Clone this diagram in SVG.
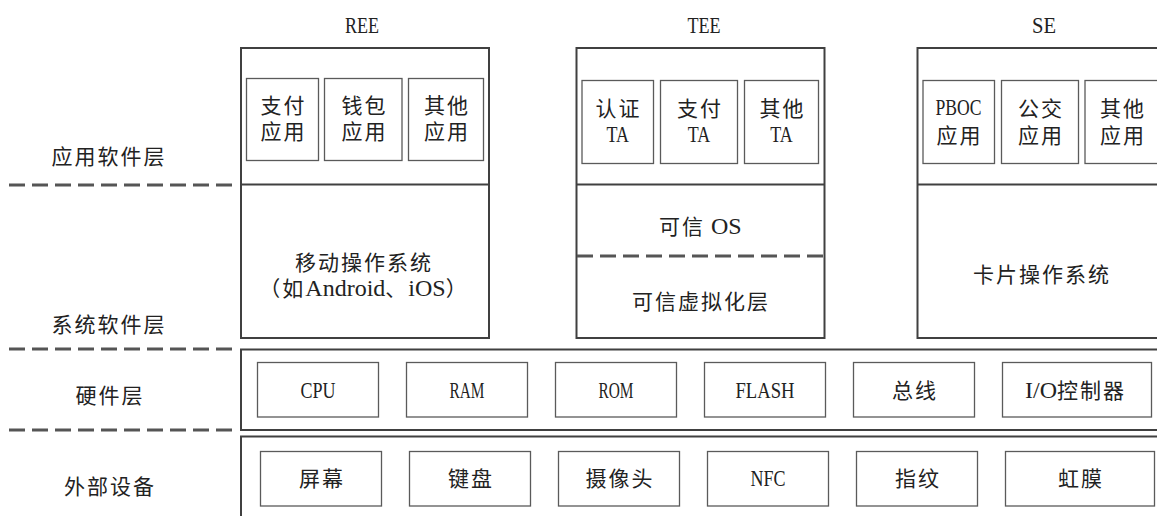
<svg xmlns="http://www.w3.org/2000/svg" width="1157" height="516" viewBox="0 0 1157 516">
<style>
.bg{fill:#ffffff}
.outer{fill:#ffffff;stroke:#404040;stroke-width:2}
.inner{fill:#ffffff;stroke:#5a5a5a;stroke-width:1.3}
.div{stroke:#404040;stroke-width:2;fill:none}
.dash{stroke:#555555;stroke-width:3;stroke-dasharray:16 7;fill:none}
.t{font-family:"Liberation Serif","Noto Sans CJK SC",serif;font-size:21px;letter-spacing:2px;fill:#222222}
.lat{font-family:"Liberation Serif","Noto Sans CJK SC",serif;font-size:24px;letter-spacing:0px}
</style>
<rect class="bg" x="0" y="0" width="1157" height="516"/>

<g id="layer-labels">
<text class="t" x="109" y="164" text-anchor="middle">应用软件层</text>
<text class="t" x="109" y="332" text-anchor="middle">系统软件层</text>
<text class="t" x="110" y="402.5" text-anchor="middle">硬件层</text>
<text class="t" x="110" y="494" text-anchor="middle">外部设备</text>
</g>

<g id="ree">
<text class="t lat" x="362" y="33" text-anchor="middle" textLength="34" lengthAdjust="spacingAndGlyphs">REE</text>
<rect class="outer" x="241" y="48" width="248" height="290"/>
<line class="div" x1="241" y1="184.5" x2="489" y2="184.5"/>
<g id="ree-pay"><rect class="inner" x="246.5" y="78.5" width="72" height="82"/>
<text class="t" x="283.5" y="112.5" text-anchor="middle">支付</text>
<text class="t" x="283.5" y="139" text-anchor="middle">应用</text></g>
<g id="ree-wallet"><rect class="inner" x="324.5" y="78.5" width="77.5" height="82"/>
<text class="t" x="364.5" y="112.5" text-anchor="middle">钱包</text>
<text class="t" x="364.5" y="139" text-anchor="middle">应用</text></g>
<g id="ree-other"><rect class="inner" x="408.5" y="78.5" width="75" height="82"/>
<text class="t" x="447" y="112.5" text-anchor="middle">其他</text>
<text class="t" x="447" y="139" text-anchor="middle">应用</text></g>
<g id="ree-os">
<text class="t" x="364" y="270" text-anchor="middle">移动操作系统</text>
<text class="t" x="364" y="295.5" text-anchor="middle">（如<tspan class="lat" font-size="23">Android</tspan>、<tspan class="lat" font-size="23">iOS</tspan>）</text>
</g>
</g>

<g id="tee">
<text class="t lat" x="704" y="33" text-anchor="middle" textLength="33" lengthAdjust="spacingAndGlyphs">TEE</text>
<rect class="outer" x="576.5" y="48" width="248" height="290"/>
<line class="div" x1="576.5" y1="184.5" x2="824.5" y2="184.5"/>
<g id="tee-auth"><rect class="inner" x="582" y="80.5" width="71.5" height="83"/>
<text class="t" x="618.5" y="115.8" text-anchor="middle">认证</text>
<text class="t lat" x="617.8" y="141.7" text-anchor="middle" textLength="22.5" lengthAdjust="spacingAndGlyphs">TA</text></g>
<g id="tee-pay"><rect class="inner" x="660.5" y="80.5" width="77" height="83"/>
<text class="t" x="700" y="115.8" text-anchor="middle">支付</text>
<text class="t lat" x="699" y="141.7" text-anchor="middle" textLength="22.5" lengthAdjust="spacingAndGlyphs">TA</text></g>
<g id="tee-other"><rect class="inner" x="744.5" y="80.5" width="74" height="83"/>
<text class="t" x="782.5" y="115.8" text-anchor="middle">其他</text>
<text class="t lat" x="781.5" y="141.7" text-anchor="middle" textLength="22.5" lengthAdjust="spacingAndGlyphs">TA</text></g>
<g id="tee-os"><text class="t" x="659" y="234">可信<tspan class="lat" x="711">OS</tspan></text></g>
<g id="tee-virt"><text class="t" x="701" y="308.5" text-anchor="middle">可信虚拟化层</text></g>
</g>

<g id="se">
<text class="t lat" x="1044" y="33" text-anchor="middle" textLength="24" lengthAdjust="spacingAndGlyphs">SE</text>
<rect class="outer" x="917.5" y="48" width="260" height="290"/>
<line class="div" x1="917.5" y1="184.5" x2="1160" y2="184.5"/>
<g id="se-pboc"><rect class="inner" x="923" y="80.5" width="71.5" height="83"/>
<text class="t lat" x="958.5" y="115.3" text-anchor="middle" textLength="46" lengthAdjust="spacingAndGlyphs">PBOC</text>
<text class="t" x="959.5" y="142.5" text-anchor="middle">应用</text></g>
<g id="se-bus"><rect class="inner" x="1001.5" y="80.5" width="77" height="83"/>
<text class="t" x="1041" y="115.8" text-anchor="middle">公交</text>
<text class="t" x="1041" y="142.5" text-anchor="middle">应用</text></g>
<g id="se-other"><rect class="inner" x="1085" y="80.5" width="80" height="83"/>
<text class="t" x="1123" y="115.8" text-anchor="middle">其他</text>
<text class="t" x="1123" y="142.5" text-anchor="middle">应用</text></g>
<g id="se-cos"><text class="t" x="1042" y="281.5" text-anchor="middle">卡片操作系统</text></g>
</g>

<g id="hardware">
<rect class="outer" x="241" y="349.5" width="930" height="80.5"/>
<g id="hw-cpu"><rect class="inner" x="257.5" y="362.5" width="121" height="54.5"/>
<text class="t lat" x="318" y="397.5" text-anchor="middle" textLength="35" lengthAdjust="spacingAndGlyphs">CPU</text></g>
<g id="hw-ram"><rect class="inner" x="406.5" y="362.5" width="121" height="54.5"/>
<text class="t lat" x="467" y="397.5" text-anchor="middle" textLength="35" lengthAdjust="spacingAndGlyphs">RAM</text></g>
<g id="hw-rom"><rect class="inner" x="555.5" y="362.5" width="121" height="54.5"/>
<text class="t lat" x="616" y="397.5" text-anchor="middle" textLength="35" lengthAdjust="spacingAndGlyphs">ROM</text></g>
<g id="hw-flash"><rect class="inner" x="704.5" y="362.5" width="121" height="54.5"/>
<text class="t lat" x="765" y="397.5" text-anchor="middle" textLength="59" lengthAdjust="spacingAndGlyphs">FLASH</text></g>
<g id="hw-bus"><rect class="inner" x="853.5" y="362.5" width="121" height="54.5"/>
<text class="t" x="915" y="398" text-anchor="middle">总线</text></g>
<g id="hw-io"><rect class="inner" x="1002.5" y="362.5" width="149" height="54.5"/>
<text class="t" x="1025" y="398"><tspan class="lat" font-size="23">I/O</tspan>控制器</text></g>
</g>

<g id="external">
<rect class="outer" x="241" y="436.5" width="930" height="90"/>
<g id="ex-screen"><rect class="inner" x="260.5" y="451.5" width="121" height="54.5"/>
<text class="t" x="322" y="486" text-anchor="middle">屏幕</text></g>
<g id="ex-keyboard"><rect class="inner" x="409.5" y="451.5" width="121" height="54.5"/>
<text class="t" x="471" y="486" text-anchor="middle">键盘</text></g>
<g id="ex-camera"><rect class="inner" x="558.5" y="451.5" width="121" height="54.5"/>
<text class="t" x="620" y="486" text-anchor="middle">摄像头</text></g>
<g id="ex-nfc"><rect class="inner" x="707.5" y="451.5" width="121" height="54.5"/>
<text class="t lat" x="768" y="485.5" text-anchor="middle" textLength="35" lengthAdjust="spacingAndGlyphs">NFC</text></g>
<g id="ex-finger"><rect class="inner" x="856.5" y="451.5" width="121" height="54.5"/>
<text class="t" x="918" y="486" text-anchor="middle">指纹</text></g>
<g id="ex-iris"><rect class="inner" x="1005.5" y="451.5" width="149" height="54.5"/>
<text class="t" x="1081" y="486" text-anchor="middle">虹膜</text></g>
</g>

<g id="connectors">
<line class="dash" x1="9" y1="185" x2="233" y2="185"/>
<line class="dash" x1="9" y1="349" x2="233" y2="349"/>
<line class="dash" x1="9" y1="430" x2="233" y2="430"/>
<line class="dash" x1="577" y1="256" x2="824" y2="256"/>
</g>
</svg>
